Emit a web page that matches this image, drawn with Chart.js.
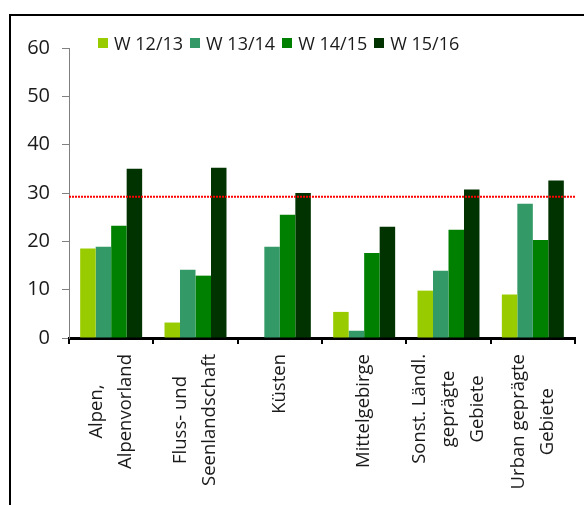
<!DOCTYPE html>
<html>
<head>
<meta charset="utf-8">
<script src="https://cdn.jsdelivr.net/npm/chart.js@4"></script>
<style>
  html, body { margin: 0; padding: 0; background: #fff; }
  body { width: 584px; height: 505px; position: relative; overflow: hidden; font-family: "Open Sans", sans-serif; }
  #frame { position: absolute; left: 9px; top: 14px; width: 620px; height: 540px;
           border-left: 2px solid #000; border-top: 2px solid #000; }
  #chart { position: absolute; left: 0; top: 0; }
  #legend { position: absolute; left: 98px; top: 32px; height: 22px; display: flex; align-items: center;
            font-size: 18px; color: #1a1a1a; white-space: nowrap; }
  .item { display: flex; align-items: center; margin-right: 7px; }
  .sw { width: 10px; height: 10px; margin-right: 6px; }
</style>
</head>
<body>
<div id="frame"></div>
<canvas id="chart" width="584" height="505"></canvas>
<div id="legend"></div>
<script>
// Landscape types (multi-line labels)
const categories = [
  ["Alpen,", "Alpenvorland"],
  ["Fluss- und", "Seenlandschaft"],
  ["Küsten"],
  ["Mittelgebirge"],
  ["Sonst. Ländl.", "geprägte", "Gebiete"],
  ["Urban geprägte", "Gebiete"]
];

// Winter seasons
const seriesNames = ["W 12/13", "W 13/14", "W 14/15", "W 15/16"];
const seriesColors = ["#99cc00", "#339966", "#008000", "#003300"];

const w1213 = [18.5, 3.2, null, 5.4, 9.8, 9.0];
const w1314 = [18.9, 14.1, 18.9, 1.5, 13.9, 27.8];
const w1415 = [23.2, 12.9, 25.5, 17.6, 22.4, 20.3];
const w1516 = [35.0, 35.2, 30.0, 23.0, 30.7, 32.6];

// Reference level shown as dotted red line
const threshold = 29.2;

const yTicks = [0, 10, 20, 30, 40, 50, 60];

const seriesValues = [w1213, w1314, w1415, w1516];

const textColor = "#1a1a1a";
const labelFont = '18.5px "Open Sans", sans-serif';

// Threshold line and rotated, centred category labels
const overlay = {
  id: "overlay",
  afterDatasetsDraw(chart) {
    const { ctx, chartArea, scales: { y } } = chart;
    const ty = y.getPixelForValue(threshold);
    ctx.save();
    ctx.strokeStyle = "#ff0000";
    ctx.lineWidth = 2;
    ctx.setLineDash([2, 1]);
    ctx.beginPath();
    ctx.moveTo(chartArea.left, ty);
    ctx.lineTo(chartArea.right, ty);
    ctx.stroke();
    ctx.restore();
  },
  afterDraw(chart) {
    const { ctx, scales: { x } } = chart;
    const lineHeight = 29;
    const topGap = 16;
    ctx.save();
    ctx.font = labelFont;
    ctx.fillStyle = textColor;
    ctx.textAlign = "center";
    ctx.textBaseline = "middle";
    categories.forEach((lines, i) => {
      const cx = x.getPixelForValue(i);
      const maxW = Math.max(...lines.map(l => ctx.measureText(l).width));
      const cy = x.top + topGap + maxW / 2;
      ctx.save();
      ctx.translate(cx, cy);
      ctx.rotate(-Math.PI / 2);
      lines.forEach((line, j) => {
        const dy = (j - (lines.length - 1) / 2) * lineHeight;
        ctx.fillText(line, 0, dy);
      });
      ctx.restore();
    });
    ctx.restore();
  }
};

const chart = new Chart(document.getElementById("chart"), {
  type: "bar",
  data: {
    labels: categories,
    datasets: seriesNames.map((name, k) => ({
      label: name,
      data: seriesValues[k],
      backgroundColor: seriesColors[k],
      borderWidth: 0,
      categoryPercentage: 0.735,
      barPercentage: 1.0
    }))
  },
  options: {
    responsive: false,
    animation: false,
    devicePixelRatio: 1,
    layout: { padding: { left: 0, right: 9, top: 48, bottom: 0 } },
    plugins: { legend: { display: false }, tooltip: { enabled: false } },
    scales: {
      x: {
        offset: true,
        z: 1,
        grid: { offset: true, drawOnChartArea: false, drawTicks: true, tickLength: 6, color: "#000", lineWidth: 2 },
        border: { display: true, color: "#000", width: 3 },
        ticks: { display: false },
        afterFit(scale) { scale.height = 167; }
      },
      y: {
        min: 0,
        max: 60,
        afterBuildTicks(scale) { scale.ticks = yTicks.map(v => ({ value: v })); },
        grid: { drawOnChartArea: false, drawTicks: true, tickLength: 7, color: "#808080", lineWidth: 1 },
        border: { display: true, color: "#808080", width: 1 },
        ticks: { padding: 12, color: textColor, font: { family: '"Open Sans", sans-serif', size: 20 } },
        afterFit(scale) { scale.width = 69; }
      }
    }
  },
  plugins: [overlay]
});

// Legend built from the series arrays
const legend = document.getElementById("legend");
seriesNames.forEach((name, k) => {
  const item = document.createElement("div");
  item.className = "item";
  const sw = document.createElement("div");
  sw.className = "sw";
  sw.style.background = seriesColors[k];
  const txt = document.createElement("span");
  txt.textContent = name;
  item.appendChild(sw);
  item.appendChild(txt);
  legend.appendChild(item);
});
</script>
</body>
</html>
